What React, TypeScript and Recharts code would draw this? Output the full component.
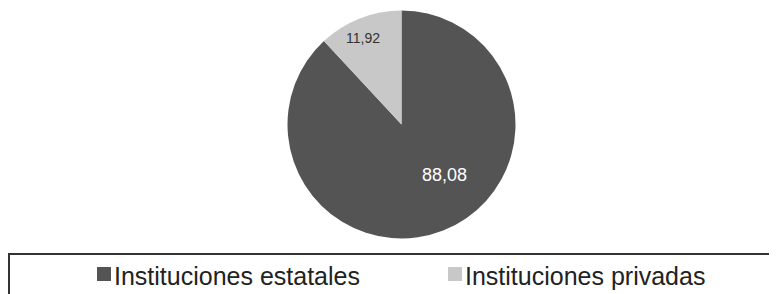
import { PieChart, Pie, Cell } from 'recharts';

const categories = ['Instituciones estatales', 'Instituciones privadas'];
const values = [88.08, 11.92];
const valueLabels = ['88,08', '11,92'];

const colors = ['#545454', '#c8c8c8'];
const labelColors = ['#ffffff', '#333333'];
const labelSizes = [18, 14];
// label placement as ratio of radius and angle shift from slice middle
const labelRadius = [0.58, 0.83];
const labelShift = [19, 2.5];

const RADIAN = Math.PI / 180;

const renderLabel = (props: any) => {
    const { cx, cy, midAngle, outerRadius, index } = props;
    const r = outerRadius * labelRadius[index];
    const a = (midAngle + labelShift[index]) * RADIAN;
    const x = cx + r * Math.cos(a);
    const y = cy - r * Math.sin(a);
    return (
        <text
            x={x}
            y={y}
            fill={labelColors[index]}
            fontSize={labelSizes[index]}
            fontFamily="Liberation Sans, Arial, sans-serif"
            textAnchor="middle"
            dominantBaseline="central"
        >
            {valueLabels[index]}
        </text>
    );
};

const App = () => {
    const data = categories.map((name, i) => ({ name, value: values[i] }));
    const legendLeft = [89, 440];

    return (
        <div style={{ position: 'relative', width: 769, height: 286, overflow: 'hidden', fontFamily: 'Liberation Sans, Arial, sans-serif' }}>
            <PieChart width={769} height={244} margin={{ top: 0, right: 0, bottom: 0, left: 0 }}>
                <Pie
                    data={data}
                    dataKey="value"
                    cx={393.5}
                    cy={116.5}
                    outerRadius={114}
                    startAngle={90}
                    endAngle={-270}
                    stroke="none"
                    label={renderLabel}
                    labelLine={false}
                    isAnimationActive={false}
                >
                    {data.map((d, i) => (
                        <Cell key={d.name} fill={colors[i]} />
                    ))}
                </Pie>
            </PieChart>
            <div
                style={{
                    position: 'absolute',
                    left: 0,
                    top: 245,
                    width: 800,
                    height: 60,
                    borderTop: '2px solid #333',
                    borderLeft: '2px solid #333',
                    boxSizing: 'border-box',
                }}
            />
            {categories.map((name, i) => (
                <div key={name} style={{ position: 'absolute', left: legendLeft[i], top: 254, height: 30 }}>
                    <div style={{ position: 'absolute', left: 0, top: 5, width: 14, height: 14, background: colors[i] }} />
                    <div style={{ position: 'absolute', left: 17, top: 0, fontSize: 25, color: '#222', whiteSpace: 'nowrap' }}>
                        {name}
                    </div>
                </div>
            ))}
        </div>
    );
};

export default App;
